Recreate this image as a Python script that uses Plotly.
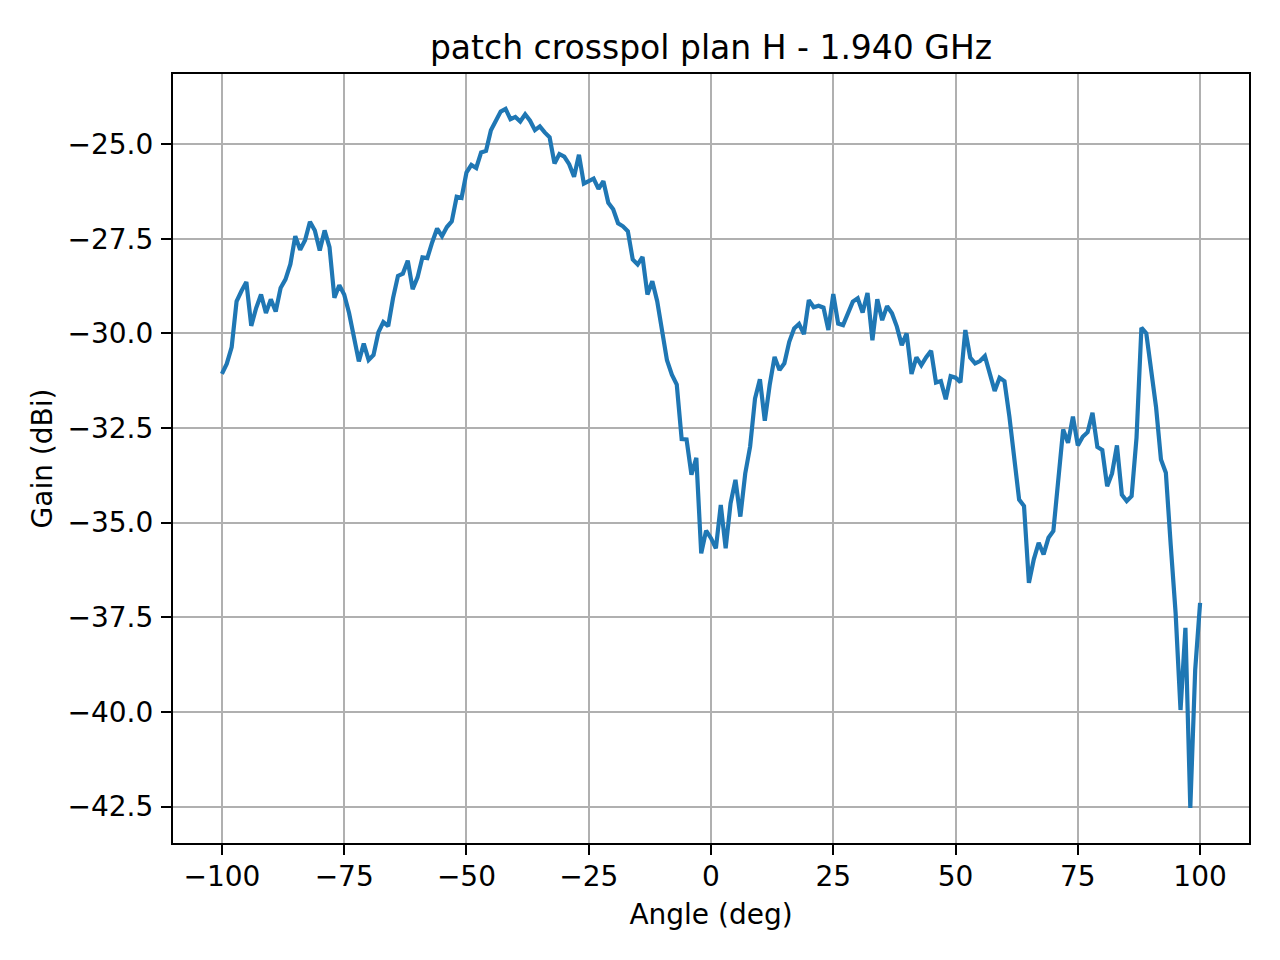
import plotly.graph_objects as go

# measured cross-pol gain, one sample per degree
angle = list(range(-100, 101))
gain = [
    -31.07, -30.80, -30.36, -29.15, -28.88, -28.64, -29.80, -29.33, -28.97, -29.46,
    -29.10, -29.42, -28.80, -28.57, -28.17, -27.43, -27.79, -27.54, -27.05, -27.28,
    -27.81, -27.28, -27.72, -29.06, -28.73, -28.97, -29.46, -30.17, -30.74, -30.27,
    -30.70, -30.57, -29.97, -29.70, -29.81, -29.06, -28.48, -28.42, -28.08, -28.83,
    -28.52, -27.99, -28.01, -27.59, -27.23, -27.43, -27.19, -27.04, -26.39, -26.42,
    -25.75, -25.55, -25.63, -25.22, -25.18, -24.63, -24.38, -24.14, -24.07, -24.34,
    -24.28, -24.40, -24.21, -24.38, -24.63, -24.53, -24.69, -24.82, -25.51, -25.26,
    -25.33, -25.53, -25.86, -25.28, -26.04, -25.98, -25.91, -26.18, -25.98, -26.55,
    -26.72, -27.09, -27.17, -27.30, -28.05, -28.18, -27.98, -28.97, -28.62, -29.15,
    -29.94, -30.71, -31.09, -31.35, -32.79, -32.80, -33.73, -33.29, -35.81, -35.21,
    -35.41, -35.68, -34.53, -35.68, -34.49, -33.87, -34.84, -33.70, -32.99, -31.72,
    -31.21, -32.31, -31.36, -30.62, -30.97, -30.79, -30.22, -29.87, -29.75, -30.02,
    -29.12, -29.31, -29.27, -29.32, -29.91, -28.96, -29.74, -29.78, -29.47, -29.16,
    -29.07, -29.45, -28.93, -30.18, -29.10, -29.65, -29.28, -29.47, -29.82, -30.31,
    -30.00, -31.07, -30.63, -30.84, -30.63, -30.46, -31.30, -31.26, -31.74, -31.13,
    -31.17, -31.29, -29.91, -30.64, -30.79, -30.73, -30.60, -31.04, -31.52, -31.17,
    -31.26, -32.19, -33.29, -34.39, -34.56, -36.59, -35.97, -35.53, -35.84, -35.40,
    -35.22, -33.88, -32.54, -32.89, -32.20, -32.96, -32.73, -32.61, -32.10, -33.00,
    -33.08, -34.04, -33.70, -32.96, -34.26, -34.43, -34.30, -32.76, -29.85, -30.00,
    -31.00, -31.95, -33.33, -33.68, -35.60, -37.40, -39.95, -37.78, -42.54, -38.88,
    -37.12,
]

x_ticks = [-100, -75, -50, -25, 0, 25, 50, 75, 100]
y_ticks = [-25.0, -27.5, -30.0, -32.5, -35.0, -37.5, -40.0, -42.5]

# matplotlib-like 5% padding
x_pad = (max(angle) - min(angle)) * 0.05
y_pad = (max(gain) - min(gain)) * 0.05

font = "DejaVu Sans"

fig = go.Figure()
fig.add_trace(go.Scatter(x=angle, y=gain, mode="lines",
                         line=dict(color="#1f77b4", width=4.2)))

axis_style = dict(
    showline=True, mirror=True, linecolor="black", linewidth=2.2,
    ticks="outside", ticklen=10, tickwidth=2.2, tickcolor="black",
    showgrid=True, gridcolor="#b0b0b0", gridwidth=2.2, zeroline=False,
    tickfont=dict(family=font, size=28, color="black"),
)

fig.update_xaxes(range=[min(angle) - x_pad, max(angle) + x_pad],
                 tickvals=x_ticks, ticklabelstandoff=-3,
                 title=dict(text="Angle (deg)", standoff=13,
                            font=dict(family=font, size=28, color="black")),
                 **axis_style)
fig.update_yaxes(range=[min(gain) - y_pad, max(gain) + y_pad],
                 tickvals=y_ticks, tickformat=".1f", ticklabelstandoff=2,
                 title=dict(text="Gain (dBi)", standoff=7,
                            font=dict(family=font, size=28, color="black")),
                 **axis_style)

# page body adds an 8px offset, so margins are shifted to compensate
fig.update_layout(
    width=1280, height=960,
    margin=dict(l=165, r=39, t=66, b=125),
    paper_bgcolor="white", plot_bgcolor="white",
    showlegend=False,
    title=dict(text="patch crosspol plan H - 1.940 GHz",
               x=0.5, xref="paper", y=1 - 39 / 960, yref="container",
               yanchor="middle", xanchor="center",
               font=dict(family=font, size=33, color="black")),
)

fig.write_html("out.html")
